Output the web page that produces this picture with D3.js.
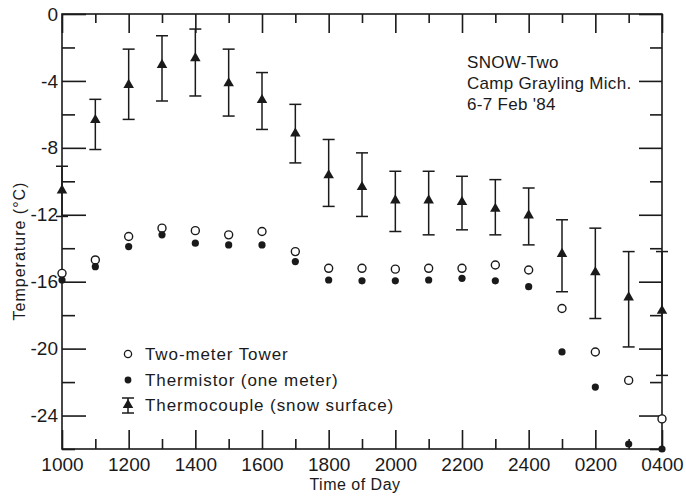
<!DOCTYPE html>
<html>
<head>
<meta charset="utf-8">
<script src="https://cdn.jsdelivr.net/npm/d3@7"></script>
<style>
  html, body { margin: 0; padding: 0; background: #fff; }
  svg { display: block; }
  text { font-family: "Liberation Sans", Arial, sans-serif; fill: #1a1a1a; }
</style>
</head>
<body>
<svg id="chart" width="686" height="497"></svg>
<script>
// ---- data (hours since midnight of 6 Feb; 25 = 0100 on 7 Feb) ----
const hours = [10,11,12,13,14,15,16,17,18,19,20,21,22,23,24,25,26,27,28];
const towerTemp = [-15.5,-14.7,-13.3,-12.8,-12.95,-13.2,-13.0,-14.2,-15.2,-15.2,-15.25,-15.2,-15.2,-15.0,-15.3,-17.6,-20.2,-21.9,-24.2];
const thermistorTemp = [-15.9,-15.1,-13.9,-13.2,-13.7,-13.8,-13.8,-14.8,-15.9,-15.95,-15.95,-15.9,-15.8,-15.95,-16.3,-20.2,-22.3,-25.7,-26.0];
const coupleTemp = [-10.6,-6.4,-4.3,-3.1,-2.7,-4.2,-5.2,-7.2,-9.7,-10.4,-11.2,-11.2,-11.3,-11.7,-12.1,-14.4,-15.5,-17.0,-17.8];
const coupleHigh = [-9.1,-5.1,-2.1,-1.3,-0.9,-2.1,-3.5,-5.4,-7.5,-8.3,-9.4,-9.4,-9.7,-9.9,-10.4,-12.3,-12.8,-14.2,-14.2];
const coupleLow  = [-12.1,-8.1,-6.3,-5.2,-4.9,-6.1,-6.9,-8.9,-11.5,-12.1,-13.0,-13.2,-12.9,-13.2,-13.8,-16.6,-18.2,-19.9,-21.6];
const xTickValues = [10,12,14,16,18,20,22,24,26,28];
const xTickLabels = ["1000","1200","1400","1600","1800","2000","2200","2400","0200","0400"];
const yTickValues = [0,-4,-8,-12,-16,-20,-24];
const yTickLabels = ["0","-4","-8","-12","-16","-20","-24"];
const legendLabels = ["Two-meter Tower","Thermistor (one meter)","Thermocouple (snow surface)"];
const noteLines = ["SNOW-Two","Camp Grayling Mich.","6-7 Feb '84"];

const ink = "#1a1a1a";
const svg = d3.select("#chart");
const L = 62, R = 662, T = 14, B = 449;
const x = d3.scaleLinear().domain([10, 28]).range([L, R]);
const y = d3.scaleLinear().domain([-26, 0]).range([B, T]);

// frame
svg.append("rect").attr("x", L).attr("y", T).attr("width", R - L).attr("height", B - T)
  .attr("fill", "none").attr("stroke", ink).attr("stroke-width", 1.6);

// axes with inward ticks
const majorX = d3.range(10, 29, 2), minorX = d3.range(11, 28, 2);
const majorY = d3.range(0, -27, -4), minorY = d3.range(-2, -27, -4);

function tickAxis(axisFn, scale, vals, size, transform) {
  const g = svg.append("g").attr("transform", transform)
    .call(axisFn(scale).tickValues(vals).tickSize(size).tickFormat(""));
  g.select(".domain").remove();
  g.selectAll(".tick line").attr("stroke", ink).attr("stroke-width", 1.6);
  return g;
}
// bottom (ticks up)
tickAxis(d3.axisTop, x, majorX, 19, `translate(0,${B})`);
tickAxis(d3.axisTop, x, minorX, 10, `translate(0,${B})`);
// top (ticks down)
tickAxis(d3.axisBottom, x, majorX, 19, `translate(0,${T})`);
tickAxis(d3.axisBottom, x, minorX, 9, `translate(0,${T})`);
// left (ticks right)
tickAxis(d3.axisRight, y, majorY, 24, `translate(${L},0)`);
tickAxis(d3.axisRight, y, minorY, 13, `translate(${L},0)`);
// right (ticks left)
tickAxis(d3.axisLeft, y, majorY, 23, `translate(${R},0)`);
tickAxis(d3.axisLeft, y, minorY, 12, `translate(${R},0)`);

// x tick labels
const xl = svg.append("g").attr("transform", `translate(0,${B})`)
  .call(d3.axisBottom(x).tickValues(xTickValues).tickSize(0).tickPadding(9)
    .tickFormat((d, i) => xTickLabels[i]));
xl.select(".domain").remove();
xl.selectAll("text").attr("font-size", 19).attr("fill", ink)
  .attr("font-family", '"Liberation Sans", Arial, sans-serif');

// y tick labels
const yl = svg.append("g").attr("transform", `translate(${L},0)`)
  .call(d3.axisLeft(y).tickValues(yTickValues).tickSize(0).tickPadding(4)
    .tickFormat((d, i) => yTickLabels[i]));
yl.select(".domain").remove();
yl.selectAll("text").attr("font-size", 19).attr("fill", ink)
  .attr("font-family", '"Liberation Sans", Arial, sans-serif');

// axis titles
svg.append("text").attr("x", 355).attr("y", 490).attr("text-anchor", "middle")
  .attr("font-size", 16).attr("letter-spacing", 0.5).text("Time of Day");
svg.append("text").attr("transform", "translate(25,251) rotate(-90)").attr("text-anchor", "middle")
  .attr("font-size", 16).attr("letter-spacing", 1).text("Temperature (°C)");

// annotation
svg.append("g").selectAll("text").data(noteLines).join("text")
  .attr("x", 467).attr("y", (d, i) => 68 + i * 21)
  .attr("font-size", 17).attr("letter-spacing", 0.3).text(d => d);

// marker helpers
const tri = d3.symbol().type(d3.symbolTriangle).size(48);
function errBar(g, cx, y1, y2) {
  g.append("line").attr("x1", cx).attr("x2", cx).attr("y1", y1).attr("y2", y2)
    .attr("stroke", ink).attr("stroke-width", 1.5);
  [y1, y2].forEach(yy => g.append("line").attr("x1", cx - 6).attr("x2", cx + 6)
    .attr("y1", yy).attr("y2", yy).attr("stroke", ink).attr("stroke-width", 1.5));
}

// thermocouple error bars + triangles
const tc = svg.append("g");
hours.forEach((h, i) => {
  errBar(tc, x(h), y(coupleHigh[i]), y(coupleLow[i]));
});
tc.selectAll("path.tri").data(hours).join("path").attr("class", "tri")
  .attr("d", tri).attr("fill", ink)
  .attr("transform", (d, i) => `translate(${x(d)},${y(coupleTemp[i]) - 1})`);

// tower open circles
svg.append("g").selectAll("circle").data(hours).join("circle")
  .attr("cx", d => x(d)).attr("cy", (d, i) => y(towerTemp[i])).attr("r", 4)
  .attr("fill", "#fff").attr("stroke", ink).attr("stroke-width", 1.4);

// thermistor filled circles
svg.append("g").selectAll("circle").data(hours).join("circle")
  .attr("cx", d => x(d)).attr("cy", (d, i) => y(thermistorTemp[i])).attr("r", 3.6)
  .attr("fill", ink);

// legend
const lg = svg.append("g");
const ly = [354, 380, 405];
lg.append("circle").attr("cx", 128).attr("cy", ly[0]).attr("r", 3.6)
  .attr("fill", "#fff").attr("stroke", ink).attr("stroke-width", 1.3);
lg.append("circle").attr("cx", 128).attr("cy", ly[1]).attr("r", 3.4).attr("fill", ink);
errBar(lg, 128, ly[2] - 7, ly[2] + 8);
lg.append("path").attr("d", tri).attr("fill", ink)
  .attr("transform", `translate(128,${ly[2]})`);
lg.selectAll("text").data(legendLabels).join("text")
  .attr("x", 145).attr("y", (d, i) => ly[i] + 6)
  .attr("font-size", 17).attr("letter-spacing", 0.9).text(d => d);
</script>
</body>
</html>
